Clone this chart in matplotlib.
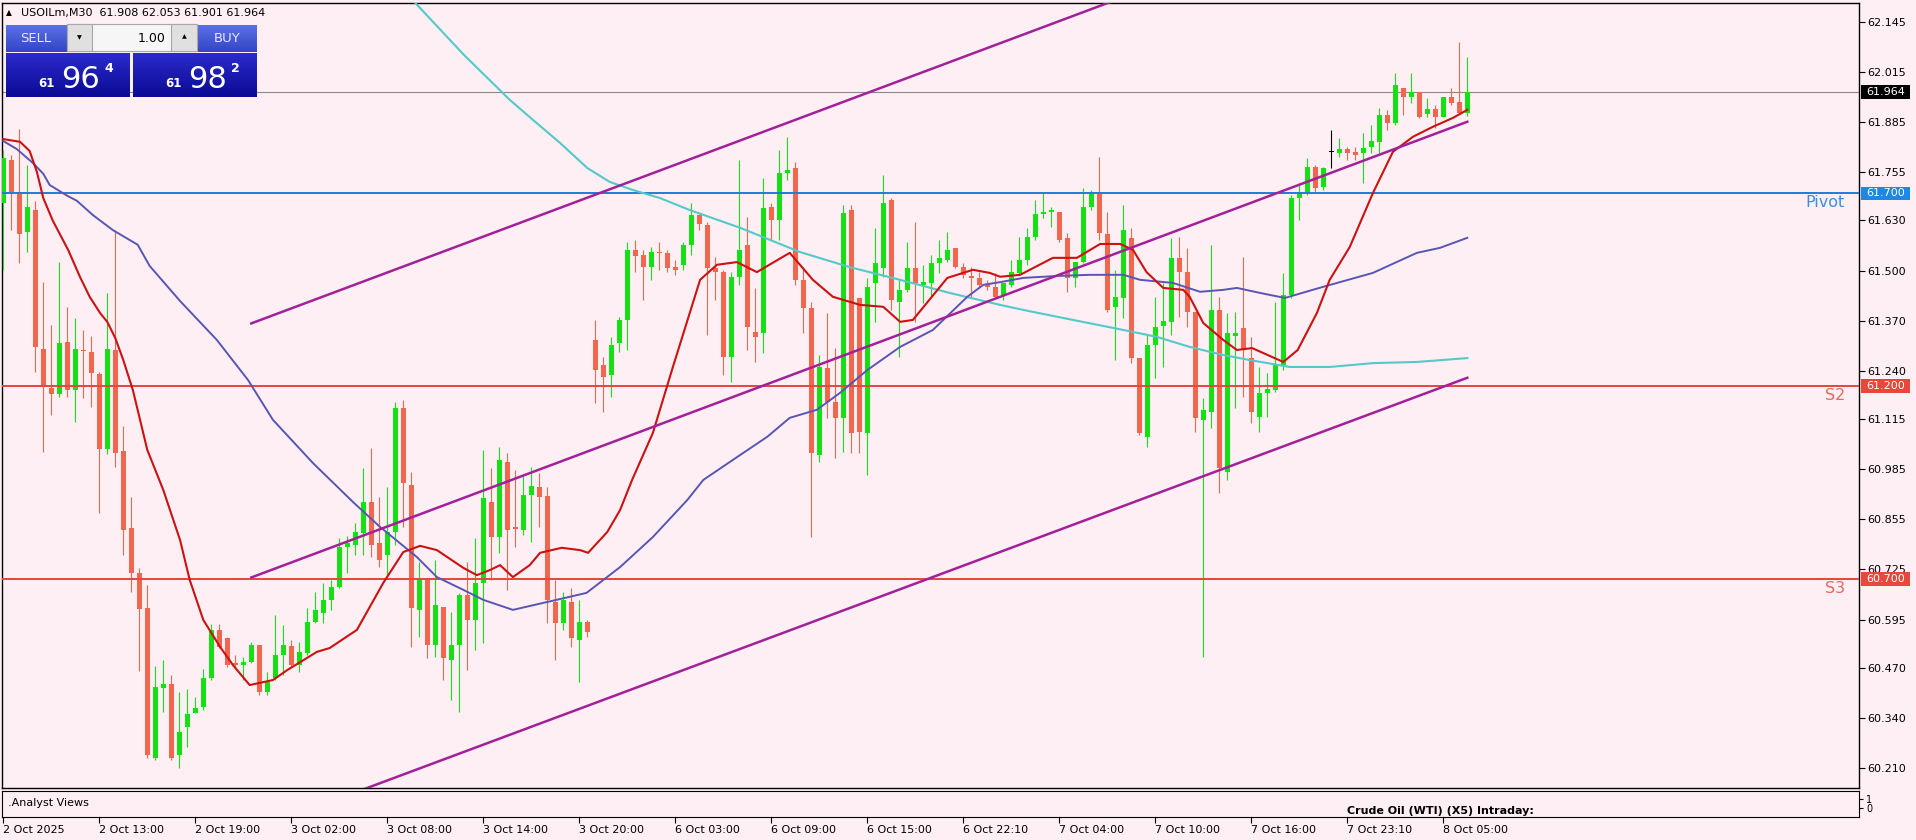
import numpy as np
import matplotlib
matplotlib.use("Agg")
import matplotlib.pyplot as plt
from matplotlib.patches import Rectangle
from matplotlib.colors import LinearSegmentedColormap

# velas USOILm M30 (barra 0 = 2 Oct 2025)
opens = [61.675, 61.787, 61.699, 61.600, 61.657, 61.297, 61.196, 61.180, 61.315, 61.190,
         61.294, 61.289, 61.232, 61.037, 61.294, 61.032, 60.832, 60.716, 60.625, 60.236,
         60.417, 60.428, 60.244, 60.316, 60.352, 60.368, 60.443, 60.568, 60.547, 60.482,
         60.477, 60.485, 60.529, 60.407, 60.443, 60.503, 60.526, 60.477, 60.508, 60.589,
         60.612, 60.646, 60.679, 60.783, 60.788, 60.819, 60.900, 60.794, 60.762, 60.822,
         61.144, 60.944, 60.620, 60.703, 60.529, 60.627, 60.490, 60.529, 60.659, 60.594,
         60.690, 60.900, 60.809, 61.004, 60.835, 60.827, 60.918, 60.939, 60.915, 60.640,
         60.586, 60.640, 60.542, 60.589, 61.320, 61.255, 61.229, 61.312, 61.372, 61.554,
         61.541, 61.509, 61.548, 61.546, 61.509, 61.515, 61.567, 61.644, 61.618, 61.507,
         61.496, 61.276, 61.483, 61.567, 61.341, 61.338, 61.665, 61.631, 61.753, 61.766,
         61.476, 61.403, 61.022, 61.247, 61.159, 61.118, 61.657, 61.429, 61.079, 61.468,
         61.507, 61.683, 61.419, 61.450, 61.507, 61.463, 61.468, 61.520, 61.528, 61.559,
         61.509, 61.486, 61.481, 61.465, 61.458, 61.437, 61.463, 61.494, 61.528, 61.587,
         61.647, 61.652, 61.652, 61.585, 61.481, 61.522, 61.665, 61.701, 61.595, 61.406,
         61.429, 61.585, 61.273, 61.068, 61.307, 61.356, 61.367, 61.533, 61.496, 61.393,
         61.113, 61.133, 61.398, 60.978, 61.330, 61.351, 61.273, 61.120, 61.183, 61.190,
         61.255, 61.437, 61.688, 61.701, 61.769, 61.717, 61.808, 61.805, 61.816, 61.808,
         61.805, 61.821, 61.834, 61.904, 61.883, 61.974, 61.950, 61.963, 61.906, 61.919,
         61.898, 61.950, 61.937, 61.908]
highs = [61.813, 61.800, 61.867, 61.774, 61.681, 61.470, 61.359, 61.522, 61.406, 61.377,
         61.346, 61.330, 61.237, 61.442, 61.605, 61.097, 60.913, 60.729, 60.685, 60.474,
         60.490, 60.451, 60.407, 60.415, 60.394, 60.467, 60.583, 60.583, 60.550, 60.503,
         60.498, 60.537, 60.529, 60.459, 60.607, 60.581, 60.542, 60.537, 60.625, 60.666,
         60.690, 60.698, 60.806, 60.812, 60.845, 60.988, 61.040, 60.913, 60.939, 61.159,
         61.164, 60.978, 60.744, 60.703, 60.749, 60.627, 60.615, 60.664, 60.744, 60.806,
         61.035, 60.988, 61.043, 61.027, 60.983, 60.970, 60.991, 60.975, 60.939, 60.698,
         60.666, 60.677, 60.646, 60.594, 61.372, 61.276, 61.328, 61.380, 61.574, 61.579,
         61.554, 61.561, 61.574, 61.554, 61.528, 61.574, 61.675, 61.650, 61.626, 61.535,
         61.502, 61.496, 61.787, 61.639, 61.455, 61.740, 61.675, 61.813, 61.847, 61.782,
         61.509, 61.419, 61.281, 61.390, 61.299, 61.670, 61.670, 61.429, 61.481, 61.611,
         61.748, 61.688, 61.476, 61.574, 61.626, 61.515, 61.541, 61.580, 61.600, 61.559,
         61.520, 61.509, 61.496, 61.476, 61.494, 61.468, 61.528, 61.587, 61.611, 61.683,
         61.701, 61.665, 61.652, 61.598, 61.522, 61.714, 61.709, 61.795, 61.652, 61.502,
         61.670, 61.611, 61.273, 61.333, 61.432, 61.468, 61.585, 61.587, 61.559, 61.393,
         61.170, 61.567, 61.432, 61.390, 61.393, 61.535, 61.328, 61.250, 61.234, 61.419,
         61.494, 61.696, 61.727, 61.792, 61.774, 61.769, 61.865, 61.844, 61.821, 61.821,
         61.857, 61.878, 61.922, 61.917, 62.013, 61.974, 62.013, 61.963, 61.948, 61.930,
         61.950, 61.974, 62.093, 62.053]
lows = [61.502, 61.605, 61.520, 61.548, 61.237, 61.030, 61.126, 61.172, 61.172, 61.107,
        61.170, 61.146, 60.871, 61.024, 60.991, 60.762, 60.666, 60.461, 60.236, 60.231,
        60.355, 60.231, 60.210, 60.264, 60.352, 60.360, 60.438, 60.521, 60.472, 60.472,
        60.438, 60.482, 60.399, 60.399, 60.438, 60.451, 60.472, 60.459, 60.503, 60.586,
        60.586, 60.620, 60.677, 60.716, 60.762, 60.762, 60.757, 60.731, 60.710, 60.788,
        60.835, 60.524, 60.550, 60.495, 60.498, 60.438, 60.386, 60.355, 60.464, 60.516,
        60.534, 60.698, 60.768, 60.672, 60.783, 60.814, 60.796, 60.835, 60.586, 60.490,
        60.568, 60.524, 60.433, 60.550, 61.157, 61.133, 61.172, 61.289, 61.294, 61.496,
        61.424, 61.476, 61.502, 61.496, 61.489, 61.502, 61.541, 61.605, 61.333, 61.424,
        61.229, 61.211, 61.463, 61.294, 61.263, 61.286, 61.580, 61.580, 61.735, 61.463,
        61.338, 60.809, 61.004, 61.118, 61.014, 61.030, 61.027, 61.027, 60.970, 61.367,
        61.483, 61.398, 61.276, 61.445, 61.367, 61.416, 61.432, 61.494, 61.522, 61.507,
        61.481, 61.432, 61.455, 61.450, 61.429, 61.424, 61.458, 61.489, 61.515, 61.580,
        61.637, 61.613, 61.574, 61.445, 61.458, 61.520, 61.657, 61.580, 61.393, 61.268,
        61.377, 61.260, 61.074, 61.043, 61.221, 61.250, 61.333, 61.380, 61.354, 61.081,
        60.498, 61.092, 60.923, 60.957, 61.144, 61.172, 61.105, 61.081, 61.120, 61.185,
        61.242, 61.429, 61.631, 61.696, 61.704, 61.709, 61.766, 61.795, 61.787, 61.787,
        61.727, 61.805, 61.805, 61.865, 61.878, 61.904, 61.935, 61.896, 61.898, 61.870,
        61.898, 61.930, 61.906, 61.901]
closes = [61.792, 61.699, 61.595, 61.665, 61.302, 61.198, 61.180, 61.312, 61.190, 61.297,
          61.292, 61.234, 61.037, 61.297, 61.027, 60.827, 60.716, 60.622, 60.244, 60.420,
          60.428, 60.236, 60.303, 60.350, 60.365, 60.443, 60.568, 60.524, 60.477, 60.477,
          60.485, 60.529, 60.407, 60.433, 60.503, 60.529, 60.477, 60.511, 60.589, 60.620,
          60.646, 60.679, 60.783, 60.794, 60.822, 60.900, 60.788, 60.749, 60.822, 61.144,
          60.949, 60.625, 60.703, 60.529, 60.633, 60.495, 60.529, 60.659, 60.594, 60.690,
          60.910, 60.809, 61.009, 60.827, 60.830, 60.918, 60.941, 60.913, 60.646, 60.586,
          60.646, 60.547, 60.589, 60.563, 61.242, 61.224, 61.307, 61.372, 61.554, 61.538,
          61.509, 61.548, 61.546, 61.507, 61.502, 61.567, 61.644, 61.621, 61.507, 61.496,
          61.276, 61.483, 61.554, 61.354, 61.328, 61.662, 61.631, 61.753, 61.761, 61.476,
          61.403, 61.027, 61.250, 61.159, 61.118, 61.650, 61.079, 61.081, 61.458, 61.520,
          61.675, 61.424, 61.450, 61.507, 61.468, 61.470, 61.520, 61.533, 61.554, 61.509,
          61.489, 61.481, 61.463, 61.458, 61.432, 61.468, 61.496, 61.528, 61.587, 61.647,
          61.652, 61.657, 61.580, 61.481, 61.522, 61.665, 61.701, 61.598, 61.398, 61.432,
          61.605, 61.273, 61.079, 61.307, 61.354, 61.369, 61.533, 61.496, 61.393, 61.118,
          61.139, 61.398, 60.988, 61.338, 61.338, 61.294, 61.133, 61.183, 61.193, 61.255,
          61.437, 61.688, 61.701, 61.769, 61.714, 61.766, 61.808, 61.816, 61.805, 61.800,
          61.818, 61.836, 61.904, 61.883, 61.982, 61.950, 61.963, 61.898, 61.919, 61.898,
          61.950, 61.935, 61.909, 61.964]

# medias moviles (barra, precio)
ma_red_x = [0, 2.1, 3.3, 4.2, 5.0, 6.2, 8.1, 9.6, 10.8, 12.1, 13.0, 14.0, 15.0, 16.2,
            18.0, 20.0, 22.1, 23.3, 25.0, 27.1, 28.7, 30.8, 33.7, 35.5, 39.2, 40.8, 44.2,
            47.5, 50.0, 52.1, 54.2, 57.5, 59.2, 60.8, 62.1, 63.7, 65.8, 67.1, 69.8, 72.1,
            73.1, 75.5, 77.1, 78.6, 81.2, 83.7, 87.1, 89.2, 91.7, 94.2, 98.3, 101.2, 103.7,
            107.1, 110.0, 112.1, 113.7, 118.0, 121.2, 123.3, 124.6, 127.1, 131.2, 134.2,
            137.1, 139.6, 141.2, 142.9, 145.0, 147.5, 148.3, 150.0, 152.5, 154.2, 156.1,
            160.0, 161.8, 164.2, 165.8, 168.3, 171.2, 173.7, 176.2, 178.7, 181.2, 183.0]
ma_red_y = [61.841, 61.834, 61.810, 61.756, 61.688, 61.629, 61.554, 61.483, 61.432, 61.390,
            61.367, 61.325, 61.268, 61.190, 61.035, 60.931, 60.801, 60.698, 60.594, 60.524,
            60.477, 60.425, 60.438, 60.464, 60.511, 60.521, 60.568, 60.690, 60.770, 60.786,
            60.775, 60.729, 60.710, 60.723, 60.736, 60.705, 60.736, 60.768, 60.781, 60.775,
            60.768, 60.822, 60.879, 60.957, 61.079, 61.250, 61.476, 61.515, 61.522, 61.496,
            61.546, 61.476, 61.432, 61.411, 61.406, 61.367, 61.372, 61.481, 61.502, 61.494,
            61.484, 61.489, 61.533, 61.533, 61.569, 61.569, 61.554, 61.496, 61.455, 61.450,
            61.432, 61.364, 61.320, 61.294, 61.299, 61.263, 61.294, 61.390, 61.476, 61.561,
            61.701, 61.808, 61.847, 61.873, 61.896, 61.917]

ma_blue_x = [0, 1.7, 3.7, 5.0, 5.8, 8.0, 9.2, 11.2, 13.7, 16.8, 18.3, 22.1, 26.7, 30.6,
             33.7, 38.7, 43.7, 47.1, 51.7, 54.2, 57.5, 60.0, 63.7, 67.9, 72.9, 77.1, 81.2,
             85.5, 87.5, 91.2, 95.5, 98.3, 101.7, 104.6, 108.0, 112.1, 116.2, 120.5, 122.5,
             124.6, 127.5, 131.7, 135.8, 140.0, 142.1, 146.2, 149.6, 152.5, 154.2, 157.1,
             160.2, 165.0, 171.2, 176.7, 179.6, 183.0]
ma_blue_y = [61.836, 61.815, 61.779, 61.751, 61.722, 61.694, 61.681, 61.644, 61.605, 61.567,
             61.512, 61.421, 61.320, 61.216, 61.113, 61.001, 60.900, 60.835, 60.757, 60.705,
             60.672, 60.646, 60.620, 60.640, 60.664, 60.731, 60.809, 60.905, 60.957, 61.009,
             61.069, 61.118, 61.139, 61.183, 61.242, 61.302, 61.346, 61.432, 61.463, 61.470,
             61.481, 61.486, 61.489, 61.489, 61.476, 61.468, 61.445, 61.450, 61.455, 61.442,
             61.429, 61.458, 61.494, 61.546, 61.559, 61.585]

ma_cyan_x = [49.6, 51.6, 57.6, 63.3, 66.2, 69.6, 73.0, 75.8, 78.7, 82.1, 85.8, 92.1, 99.6,
             105.8, 112.1, 118.3, 124.6, 127.5, 133.7, 140.0, 144.2, 148.3, 152.5, 155.8,
             160.8, 165.8, 171.2, 176.7, 183.0]
ma_cyan_y = [62.236, 62.192, 62.059, 61.943, 61.891, 61.831, 61.766, 61.730, 61.709, 61.688,
             61.657, 61.611, 61.548, 61.509, 61.476, 61.442, 61.411, 61.398, 61.372, 61.346,
             61.328, 61.302, 61.281, 61.268, 61.250, 61.250, 61.260, 61.263, 61.273]

# canal alcista
channel_x = [31, 183]
channel_up = [61.363, 62.543]
channel_mid = [60.704, 61.886]
channel_low = [60.046, 61.222]

level_names = ["Pivot", "S2", "S3"]
level_prices = [61.700, 61.200, 60.700]
level_colors = ["#1f7bd8", "#e2483c", "#e2483c"]
level_text_colors = ["#3b8ede", "#e36a5c", "#e36a5c"]
level_box_colors = ["#1e88e5", "#e8473c", "#e8473c"]

price_ticks = [62.145, 62.015, 61.885, 61.755, 61.630, 61.500, 61.370, 61.240, 61.115,
               60.985, 60.855, 60.725, 60.595, 60.470, 60.340, 60.210]
tick_bars = [0, 12, 24, 36, 48, 60, 72, 84, 96, 108, 120, 132, 144, 156, 168, 180]
tick_labels = ["2 Oct 2025", "2 Oct 13:00", "2 Oct 19:00", "3 Oct 02:00", "3 Oct 08:00",
               "3 Oct 14:00", "3 Oct 20:00", "6 Oct 03:00", "6 Oct 09:00", "6 Oct 15:00",
               "6 Oct 22:10", "7 Oct 04:00", "7 Oct 10:00", "7 Oct 16:00", "7 Oct 23:10",
               "8 Oct 05:00"]

bid = 61.964
ask = 61.982

BG = "#fdeff3"
GREEN = "#14e014"
RED = "#f2664d"
PURPLE = "#a3209b"

W, H = 1916, 840
fig = plt.figure(figsize=(W / 100, H / 100), dpi=100, facecolor=BG)
ax = fig.add_axes([2 / W, (H - 788) / H, 1857 / W, 785 / H], facecolor=BG)
ax2 = fig.add_axes([2 / W, (H - 817) / H, 1857 / W, 26 / H], facecolor=BG)

o = np.array(opens)
h = np.array(highs)
l = np.array(lows)
c = np.array(closes)
x = np.arange(len(o))
colors = np.where(c > o, GREEN, np.where(c < o, RED, "black"))

ax.vlines(x, l, h, colors=colors, lw=0.8, zorder=3)
ax.bar(x, np.maximum(np.abs(c - o), 0.0028), bottom=np.minimum(o, c), width=0.62,
       color=colors, linewidth=0, zorder=4)

ax.axhline(c[-1], color="#8a8a8a", lw=0.8, zorder=2)
for name, lv, col, tcol in zip(level_names, level_prices, level_colors, level_text_colors):
    ax.axhline(lv, color=col, lw=1.4, zorder=5)
    ax.text(0.9925, lv - 0.004, name, transform=ax.get_yaxis_transform(), ha="right",
            va="top", fontsize=11.5, color=tcol, zorder=6)

ax.plot(ma_cyan_x, ma_cyan_y, color="#55c8ca", lw=1.5, zorder=5)
ax.plot(ma_blue_x, ma_blue_y, color="#5a55b4", lw=1.4, zorder=5)
ax.plot(ma_red_x, ma_red_y, color="#cc1111", lw=1.5, zorder=5)
for ys in (channel_up, channel_mid, channel_low):
    ax.plot(channel_x, ys, color=PURPLE, lw=1.8, zorder=6)

ax.set_xlim(-0.16, 231.96)
ax.set_ylim(60.158, 62.194)
ax.yaxis.tick_right()
ax.set_yticks(price_ticks)
ax.set_yticklabels([f"{p:.3f}" for p in price_ticks])
ax.tick_params(axis="y", length=4, width=0.8, labelsize=8, pad=2, colors="black")
ax.tick_params(axis="x", bottom=False, labelbottom=False)
for s in ax.spines.values():
    s.set_color("black")
    s.set_linewidth(1)

# etiquetas de precio en el eje derecho
tr = ax.get_yaxis_transform()
boxes = [(c[-1], "black")] + list(zip(level_prices, level_box_colors))
for p, fc in boxes:
    ax.add_patch(Rectangle((1.0011, p - 0.018), 0.0264, 0.036, transform=tr,
                           facecolor=fc, edgecolor="none", clip_on=False, zorder=8))
    ax.text(1.0143, p, f"{p:.3f}", transform=tr, ha="center", va="center",
            fontsize=8, color="white", zorder=9, clip_on=False)

# panel inferior
ax2.set_xlim(-0.16, 231.96)
ax2.set_ylim(-1, 1.889)
ax2.yaxis.tick_right()
ax2.set_yticks([0, 1])
ax2.set_yticklabels(["0", "1"])
ax2.tick_params(axis="y", length=3, labelsize=7, pad=2)
ax2.set_xticks(tick_bars)
ax2.set_xticklabels(tick_labels)
ax2.tick_params(axis="x", length=4, labelsize=8, pad=2)
for lbl in ax2.get_xticklabels():
    lbl.set_ha("left")
for s in ax2.spines.values():
    s.set_color("black")
ax2.text(0.0032, 0.54, ".Analyst Views", transform=ax2.transAxes, fontsize=8, va="center")
ax2.text(0.7243, 0.12, "Crude Oil (WTI) (X5) Intraday:", transform=ax2.transAxes,
         fontsize=8, fontweight="bold", va="baseline")

# panel de trading (capa superior en pixeles)
ui = fig.add_axes([0, 0, 1, 1], zorder=20)
ui.patch.set_alpha(0)
ui.axis("off")


def grad_box(x0, y0, x1, y1, c0, c1):
    cmap = LinearSegmentedColormap.from_list("g", [c0, c1])
    ui.imshow(np.linspace(0, 1, 32).reshape(-1, 1), cmap=cmap, extent=[x0, x1, y1, y0],
              aspect="auto", interpolation="bilinear", zorder=21)


ui.text(6, 13, "\u25b2", fontsize=5.5, va="center")
ui.text(21, 13, f"USOILm,M30  {o[-1]:.3f} {h[-1]:.3f} {l[-1]:.3f} {c[-1]:.3f}",
        fontsize=8, va="center")

grad_box(6, 25, 130, 52, "#5b70e4", "#3345c6")
grad_box(197, 25, 257, 52, "#5b70e4", "#3345c6")
grad_box(6, 53, 130, 97, "#2a2acc", "#0b0b94")
grad_box(133, 53, 257, 97, "#2a2acc", "#0b0b94")
ui.add_patch(Rectangle((67, 24), 130, 27, facecolor="#f6f6f6", edgecolor="#a8a8a8",
                       lw=0.8, zorder=22))
ui.add_patch(Rectangle((67, 24), 25, 27, facecolor="#e0e0e0", edgecolor="#a8a8a8",
                       lw=0.8, zorder=23))
ui.add_patch(Rectangle((171, 24), 26, 27, facecolor="#e0e0e0", edgecolor="#a8a8a8",
                       lw=0.8, zorder=23))
ui.text(79.5, 38, "\u25bc", fontsize=4.5, ha="center", va="center", zorder=24)
ui.text(184, 37, "\u25b2", fontsize=4.5, ha="center", va="center", zorder=24)
ui.text(166, 38, "1.00", fontsize=9, ha="right", va="center", zorder=24)
ui.text(36, 39, "SELL", fontsize=9.5, ha="center", va="center", color="#e4eaff", zorder=24)
ui.text(227, 39, "BUY", fontsize=9.5, ha="center", va="center", color="#e4eaff", zorder=24)

for x0, val in ((38, bid), (165, ask)):
    s = f"{val:.3f}"
    ui.text(x0, 87, s[:2], fontsize=8.5, fontweight="bold", color="white", zorder=24)
    ui.text(x0 + 23, 88, s[3:5], fontsize=22, color="white", zorder=24)
    ui.text(x0 + 66, 72, s[5], fontsize=9, fontweight="bold", color="white", zorder=24)

ui.set_xlim(0, W)
ui.set_ylim(H, 0)

fig.savefig("out.png", dpi=100, facecolor=BG)
